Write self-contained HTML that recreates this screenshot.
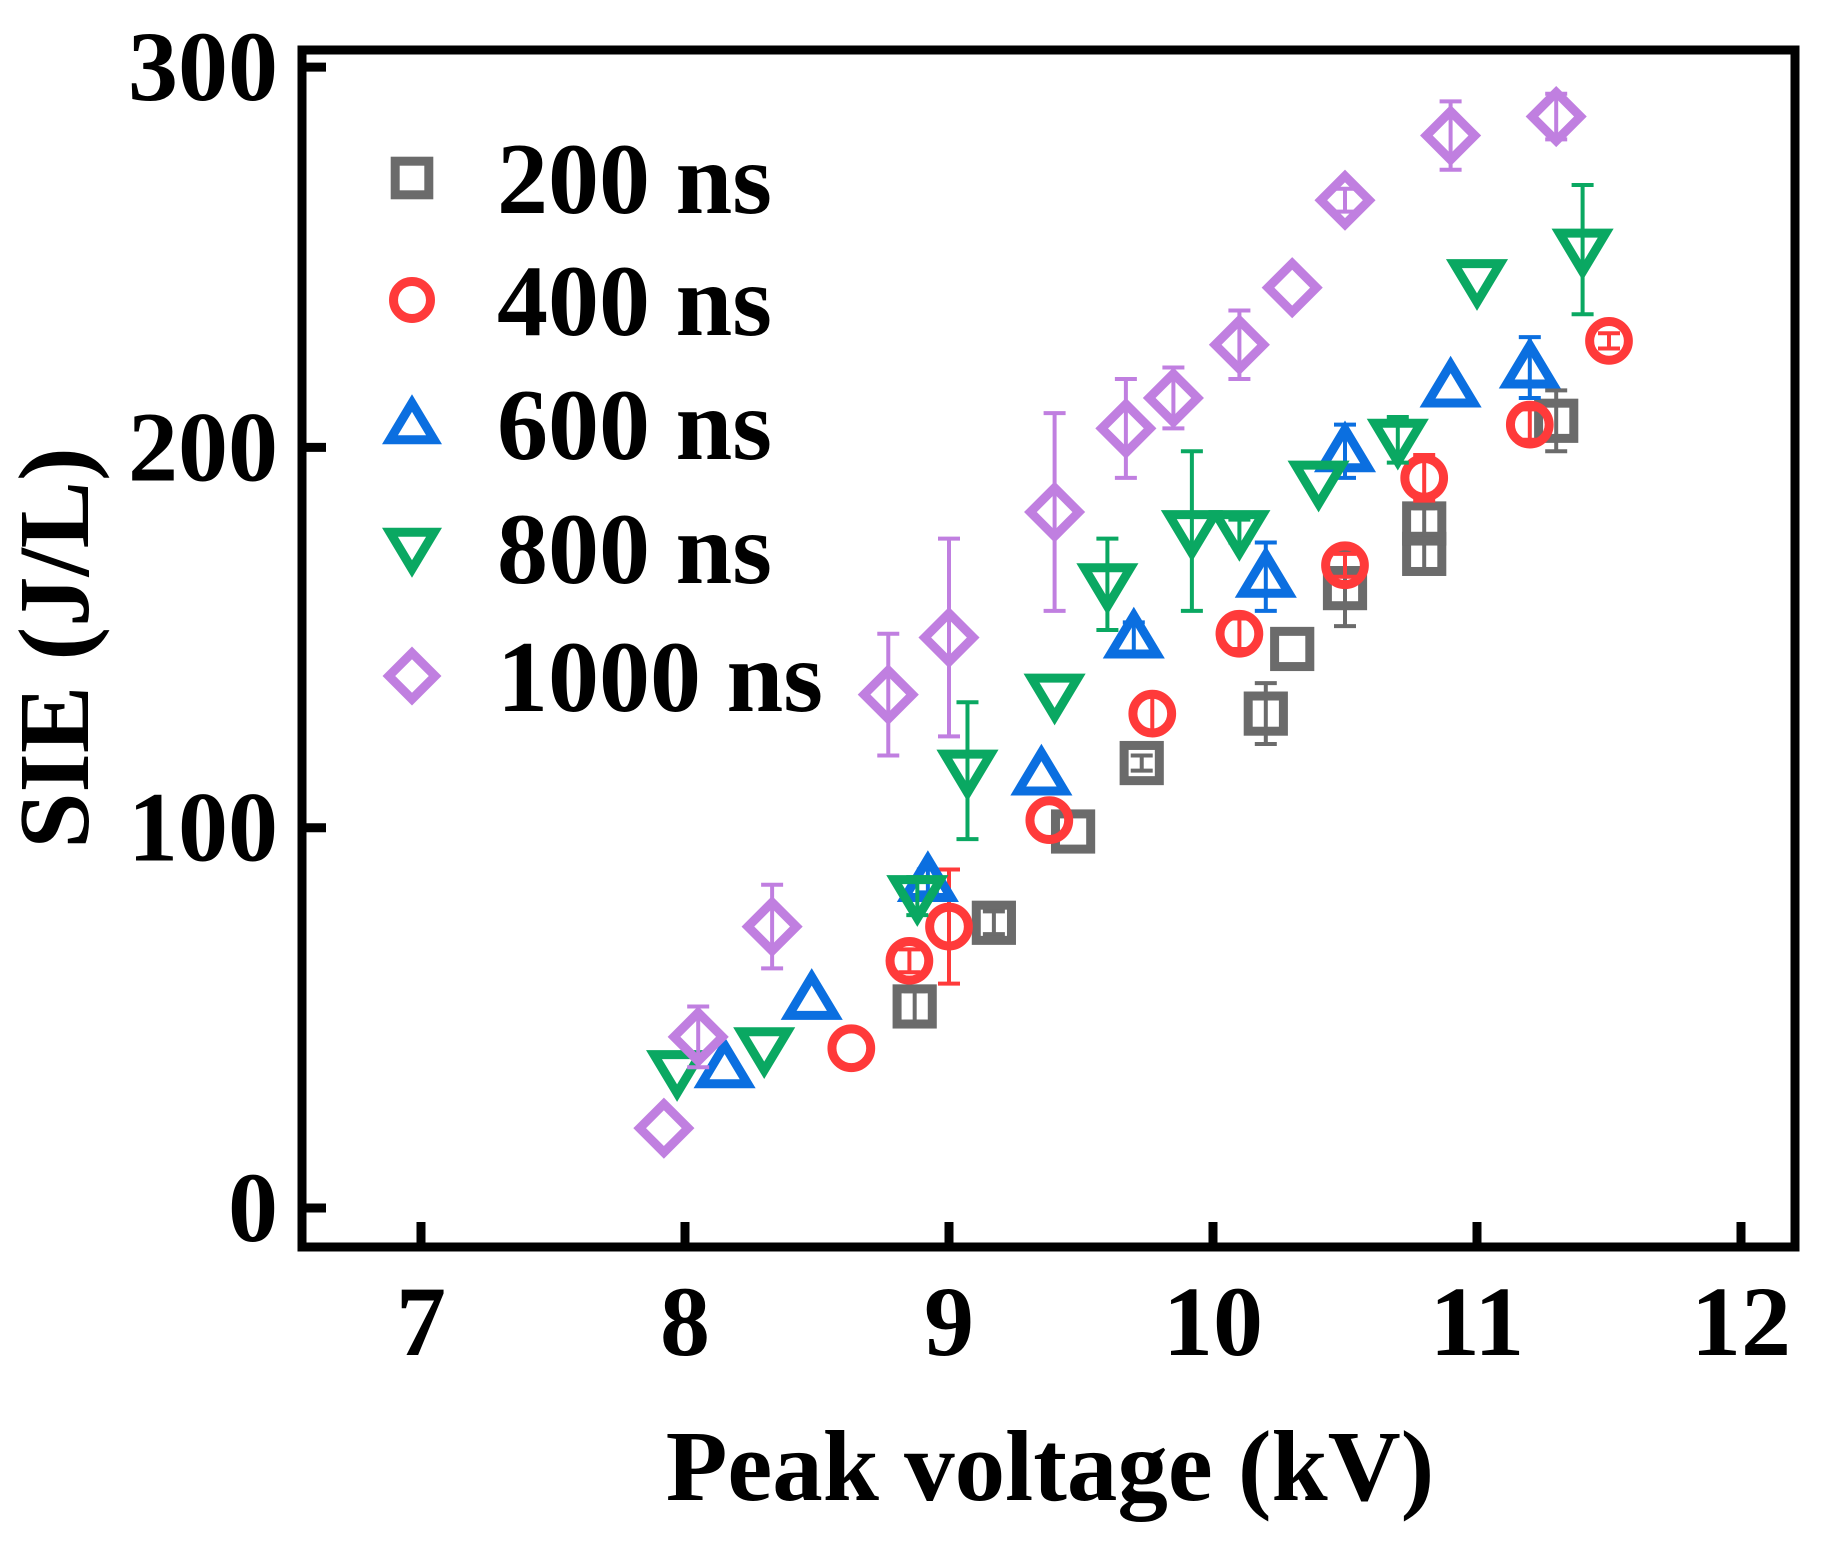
<!DOCTYPE html>
<html><head><meta charset="utf-8"><style>
html,body{margin:0;padding:0;background:#fff;}
svg text{font-family:"Liberation Serif",serif;font-weight:bold;fill:#000;}
</style></head><body>
<svg id="chart" width="1826" height="1542" viewBox="0 0 1826 1542" xmlns="http://www.w3.org/2000/svg">
<g id="marks"></g>
<rect x="302" y="50" width="1493" height="1197" fill="none" stroke="#000" stroke-width="9"/>
<g id="axes"></g>
<text x="1050" y="1500" font-size="101" text-anchor="middle">Peak voltage (kV)</text>
<text transform="translate(88,648) rotate(-90)" font-size="101" text-anchor="middle">SIE (J/L)</text>
<g id="legend"></g>
</svg>
<script>
const xTicks=[7,8,9,10,11,12];
const yTicks=[0,100,200,300];
const seriesNames=['200 ns','400 ns','600 ns','800 ns','1000 ns'];
const s200x=[8.87,9.17,9.47,9.73,10.2,10.3,10.5,10.8,10.8,11.3];
const s200y=[53,75,99,117,130,147,163,172,180,207];
const s200e=[4,3,0,2,8,0,10,5,4,8];
const s400x=[8.63,8.85,9.0,9.38,9.77,10.1,10.5,10.8,11.2,11.5];
const s400y=[42,65,74,102,130,151,169,192,206,228];
const s400e=[0,3,15,0,5,4,3,6,4,2];
const s600x=[8.15,8.48,8.92,9.35,9.7,10.2,10.5,10.9,11.2];
const s600y=[37,55,86,114,150,166,199,216,221];
const s600e=[0,0,3,0,4,9,7,0,8];
const s800x=[7.97,8.3,8.88,9.07,9.4,9.6,9.92,10.1,10.4,10.7,11.0,11.4];
const s800y=[36,42,82,115,135,164,178,178,191,202,244,252];
const s800e=[0,0,5,18,0,12,21,3,0,6,0,17];
const s1000x=[7.92,8.05,8.33,8.77,9.0,9.4,9.67,9.85,10.1,10.3,10.5,10.9,11.3];
const s1000y=[21,45,74,135,150,183,205,213,227,242,265,282,287];
const s1000e=[0,8,11,16,26,26,13,8,9,0,3,9,6];

const NS='http://www.w3.org/2000/svg';
const X=v=>421+(v-7)*264;
const Y=v=>1208-v*3.803;
function mk(tag,attrs,parent){const e=document.createElementNS(NS,tag);for(const k in attrs)e.setAttribute(k,attrs[k]);parent.appendChild(e);return e;}
const axes=document.getElementById('axes');
xTicks.forEach(t=>{
  const l=mk('line',{x1:X(t),x2:X(t),y1:1247,y2:1222,stroke:'#000','stroke-width':9},axes);
  
  
  const tx=mk('text',{x:X(t),y:1355,'font-size':100,'text-anchor':'middle'},axes);
  tx.textContent=t;
  
  
});
yTicks.forEach(t=>{
  const l=mk('line',{x1:302,x2:326,y1:Y(t),y2:Y(t),stroke:'#000','stroke-width':9},axes);
  
  
  const tx=mk('text',{x:278,y:Y(t)+33,'font-size':100,'text-anchor':'end'},axes);
  tx.textContent=t;
  
  
});
const colors=['#6b6b6b','#ff3a3a','#0b6fe0','#0aa862','#c07fe0'];
const shapes=['square','circle','up','down','diamond'];
function marker(g,shape,cx,cy,c,sz){
  let e;const r=sz/2;const sw=9;
  if(shape==='square')e=mk('rect',{x:cx-r*0.8,y:cy-r*0.8,width:r*1.6,height:r*1.6,fill:'none',stroke:c,'stroke-width':sw},g);
  else if(shape==='circle')e=mk('circle',{cx,cy,r:r*0.88,fill:'none',stroke:c,'stroke-width':sw},g);
  else if(shape==='up')e=mk('polygon',{points:`${cx},${cy-r} ${cx-r*1.05},${cy+r*0.75} ${cx+r*1.05},${cy+r*0.75}`,fill:'none',stroke:c,'stroke-width':sw},g);
  else if(shape==='down')e=mk('polygon',{points:`${cx},${cy+r} ${cx-r*1.05},${cy-r*0.75} ${cx+r*1.05},${cy-r*0.75}`,fill:'none',stroke:c,'stroke-width':sw},g);
  else e=mk('polygon',{points:`${cx},${cy-r*1.1} ${cx+r*1.1},${cy} ${cx},${cy+r*1.1} ${cx-r*1.1},${cy}`,fill:'none',stroke:c,'stroke-width':sw},g);
  return e;
}
const allX=[s200x,s400x,s600x,s800x,s1000x],allY=[s200y,s400y,s600y,s800y,s1000y],allE=[s200e,s400e,s600e,s800e,s1000e];
const marks=document.getElementById('marks');
allX.forEach((xs,si)=>{
  const g=mk('g',{},marks);
  
  
  xs.forEach((xv,i)=>{
    const cx=X(xv),cy=Y(allY[si][i]),e=allE[si][i],c=colors[si];
    if(e>0){
      const y1=Y(allY[si][i]+e),y2=Y(allY[si][i]-e);
      const eb=mk('path',{d:`M${cx},${y1}V${y2}M${cx-11},${y1}H${cx+11}M${cx-11},${y2}H${cx+11}`,stroke:c,'stroke-width':4,fill:'none'},g);
      
      
    }
    const m=marker(g,shapes[si],cx,cy,c,44);
    
    
  });
});
const leg=document.getElementById('legend');
const legY=[178,300,424,548,676];
seriesNames.forEach((n,i)=>{
  const g=mk('g',{},leg);
  
  
  marker(g,shapes[i],412,legY[i],colors[i],42);
  const t=mk('text',{x:497,y:legY[i]+35,'font-size':102},g);
  t.textContent=n;
});
</script>
</body></html>
